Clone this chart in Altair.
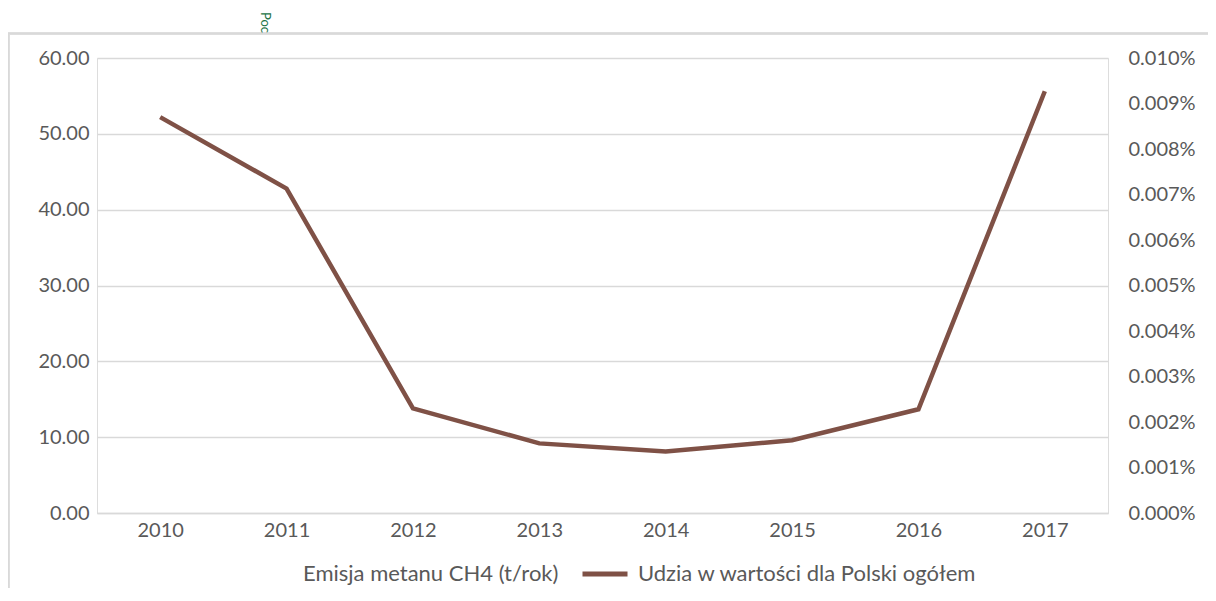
import altair as alt
import pandas as pd

years = ["2010", "2011", "2012", "2013", "2014", "2015", "2016", "2017"]
udzial = [0.0000870, 0.0000713, 0.0000230, 0.0000153, 0.0000135, 0.0000160, 0.0000228, 0.0000927]
emisja = [None, None, None, None, None, None, None, None]
series_names = ["Emisja metanu CH4 (t/rok)", "Udzia w wartości dla Polski ogółem"]
left_ticks = [0, 10, 20, 30, 40, 50, 60]
right_ticks = [0.0, 0.00001, 0.00002, 0.00003, 0.00004, 0.00005, 0.00006, 0.00007, 0.00008, 0.00009, 0.0001]

df = pd.DataFrame({"rok": years, "udzial": udzial, "emisja": emisja,
                   "seria": [series_names[1]] * len(years)})

FONT = "Lato"
GREY = "#595959"
GRID = "#d9d9d9"
BROWN = "#7f5146"
FS = 20

xenc = alt.X("rok:N", sort=years, title=None,
             scale=alt.Scale(paddingInner=0, paddingOuter=0.5),
             axis=alt.Axis(labelAngle=0, ticks=False, domainColor=GRID, domainWidth=1.5,
                           labelFont=FONT, labelFontSize=FS, labelColor=GREY, labelPadding=7))

left = alt.Chart(df).mark_point(opacity=0).encode(
    x=xenc,
    y=alt.Y("emisja:Q", title=None,
            scale=alt.Scale(domain=[0, 60], nice=False, zero=True),
            axis=alt.Axis(orient="left", values=left_ticks, format=".2f", grid=True,
                          gridColor=GRID, gridWidth=1.5, ticks=False, domain=False,
                          labelFont=FONT, labelFontSize=FS, labelColor=GREY, labelPadding=8)),
)

line = alt.Chart(df).mark_line(strokeWidth=4.5, strokeCap="butt", strokeJoin="miter").encode(
    x=xenc,
    y=alt.Y("udzial:Q", title=None,
            scale=alt.Scale(domain=[0, 0.0001], nice=False),
            axis=alt.Axis(orient="right", values=right_ticks, format=".3%", grid=False,
                          ticks=False, domain=False,
                          labelFont=FONT, labelFontSize=FS, labelColor=GREY, labelPadding=20)),
    color=alt.Color("seria:N", title=None,
                    scale=alt.Scale(domain=series_names, range=["rgba(0,0,0,0)", BROWN]),
                    legend=alt.Legend(orient="none", direction="horizontal", legendX=148, legendY=491,
                                      symbolType="stroke", symbolSize=2025, symbolStrokeWidth=5,
                                      labelFont=FONT, labelFontSize=22, labelColor=GREY,
                                      labelLimit=0, labelOffset=8, columnPadding=13)),
)

frame_top = alt.Chart(df).mark_rule(color=GRID, strokeWidth=1.5).encode(
    x=alt.value(-89), x2=alt.value(1130), y=alt.value(-24.5))
frame_left = alt.Chart(df).mark_rule(color=GRID, strokeWidth=1.5).encode(
    x=alt.value(-88.5), y=alt.value(-24.5), y2=alt.value(560))
poc = alt.Chart(pd.DataFrame({"t": ["Poc"]})).mark_text(
    angle=90, align="left", baseline="alphabetic", color="#217346", font=FONT, fontSize=13
).encode(text="t:N", x=alt.value(164), y=alt.value(-46))

chart = alt.layer(left, line, frame_top, frame_left, poc).resolve_scale(
    y="independent", color="independent"
).properties(
    width=1011, height=455,
    autosize=alt.AutoSizeParams(type="none"),
    padding={"left": 89, "top": 50, "right": 100, "bottom": 75},
).configure_view(stroke=None).configure(background="white")

chart.save("out.html", embed_options={"renderer": "svg", "actions": False})
